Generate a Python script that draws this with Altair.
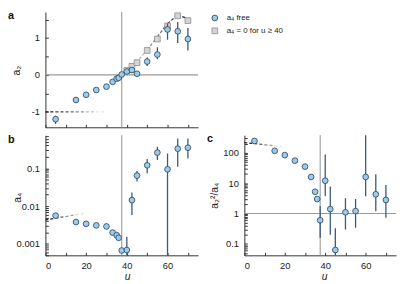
import altair as alt
import pandas as pd

# ---------------- data ----------------
u_free = [5, 15, 20, 25, 30, 33, 35, 36, 37.5, 40, 42.5, 45, 50, 55, 60, 65, 70]
a2_free = [-1.20, -0.68, -0.54, -0.41, -0.32, -0.19, -0.105, -0.08, 0.01, 0.09, 0.13, 0.03, 0.36, 0.55, 1.23, 1.18, 0.97]
a2_free_lo = [-1.33, -0.68, -0.54, -0.41, -0.32, -0.19, -0.105, -0.08, 0.01, 0.09, 0.13, 0.03, 0.24, 0.42, 0.95, 0.86, 0.66]
a2_free_hi = [-1.11, -0.68, -0.54, -0.41, -0.32, -0.19, -0.105, -0.08, 0.01, 0.09, 0.13, 0.03, 0.47, 0.75, 1.39, 1.43, 1.27]

u_fixed = [40, 42.5, 45, 50, 55, 60, 65, 70]
a2_fixed = [0.12, 0.23, 0.33, 0.66, 0.97, 1.32, 1.60, 1.47]

a4_free = [0.0056, 0.0038, 0.0034, 0.0031, 0.0029, 0.0020, 0.0017, 0.00145, 0.00067, 0.00069, 0.0144, 0.064, 0.12, 0.26, 0.094, 0.33, 0.35]
a4_lo = [0.0056, 0.0038, 0.0034, 0.0031, 0.0029, 0.0020, 0.0017, 0.00145, 0.00067, 0.0003, 0.0058, 0.045, 0.074, 0.165, 0.0001, 0.11, 0.18]
a4_hi = [0.0056, 0.0038, 0.0034, 0.0031, 0.0029, 0.0020, 0.0017, 0.00145, 0.00067, 0.00155, 0.023, 0.085, 0.176, 0.37, 0.245, 0.61, 0.61]

ratio = [245, 116, 84, 55, 35, 16, 5.2, 3.0, 0.6, 12, 1.4, 0.063, 1.1, 1.2, 16, 4.3, 2.8]
ratio_lo = [245, 116, 84, 55, 35, 16, 5.2, 3.0, 0.16, 3.7, 0.2, 0.01, 0.3, 0.34, 3.7, 1.19, 0.72]
ratio_hi = [245, 116, 84, 55, 35, 16, 5.2, 3.0, 1.73, 88, 7.7, 0.33, 3.2, 3.0, 1000, 19.5, 8.7]

# dashed guide curves
guide_a_flat_u = [0, 5, 10, 15, 20, 25, 30]
guide_a_flat_v = [-1, -1, -1, -1, -1, -1, -1]
guide_a_rise_u = [38, 43, 50, 55, 60, 65, 70]
guide_a_rise_v = [0.02, 0.22, 0.68, 1.03, 1.39, 1.62, 1.52]
guide_b_u = [0, 5, 10, 15, 20]
guide_b_v = [0.0043, 0.0048, 0.0053, 0.0059, 0.0066]
guide_c_u = [0, 5, 10, 15, 20]
guide_c_v = [215, 200, 185, 170, 156]

vline_u = [37.5]
hline_a2 = [0]
hline_ratio = [1]

series_names = ["a\u2084 free", "a\u2084 = 0 for u \u2265 40"]
panel_labels = ["a", "b", "c"]

# ---------------- styling ----------------
FONT = "Liberation Sans"
BLUE = "#9ccbea"
NAVY = "#24415c"
ERR = "#385a7a"
SQ_FILL = "#d4d4d4"
SQ_STROKE = "#8c8c8c"
REF = "#9a9a9a"
AX = "#333333"
W_L, W_R, H_A, H_B = 155, 154, 117, 122
inward = alt.ExprRef(expr="-3")

u_ticks = [0, 10, 20, 30, 40, 50, 60, 70]
U_DOMAIN = [0, 75]


def log_ticks_all(lo, hi):
    out = []
    for e in range(-5, 4):
        for m in range(1, 10):
            v = float(f"{m}e{e}")
            if lo <= v <= hi:
                out.append(v)
    return out


decade_expr = "abs(log(datum.value)/LN10 - round(log(datum.value)/LN10)) < 0.001 ? format(datum.value, '~g') : ''"


def x_axis(labels, title_x=0):
    if labels:
        return alt.Axis(values=u_ticks, labelExpr="datum.value % 20 == 0 ? toString(datum.value) : ''",
                        tickSize=inward, labelPadding=8, labelFontSize=9.5, labelOverlap=False,
                        title="u", titleFontStyle="italic", titleFontWeight="normal", titleFontSize=10.5,
                        titleX=title_x, titleY=22, titleBaseline="middle", titleAlign="center",
                        grid=False)
    return alt.Axis(values=u_ticks, labels=False, tickSize=inward, title=None, grid=False)


def y_axis(values, expr, title, tx, ty):
    return alt.Axis(values=values, labelExpr=expr, tickSize=inward, labelPadding=9, labelFontSize=9.5,
                    labelOverlap=False, title=title, titleFontWeight="normal", titleFontSize=10.5,
                    titleX=tx, titleY=ty, titleAngle=-90, titleBaseline="middle", titleAlign="center",
                    grid=False)


def segments(us, vs, dark_first):
    rows = []
    n = len(us) - 1
    for i in range(n):
        t = i / (n - 1) if n > 1 else 0.0
        rows.append(dict(u0=us[i], u1=us[i + 1], v0=vs[i], v1=vs[i + 1], shade=t if dark_first else 1 - t))
    return pd.DataFrame(rows)


shade_color = alt.Color("shade:Q", scale=alt.Scale(domain=[0, 1], range=["#222222", "#e4e4e4"]), legend=None)


def panel(xa, ya, df_points, df_err, guides, vls, hls, label, label_xy, extra=None, legend_enc=None):
    X = lambda f: alt.X(f"{f}:Q", scale=alt.Scale(domain=U_DOMAIN, nice=False), axis=xa)
    layers = []
    if hls is not None:
        layers.append(alt.Chart(pd.DataFrame({"v": hls})).mark_rule(color=REF, strokeWidth=1.1).encode(y=ya("v")))
    layers.append(alt.Chart(pd.DataFrame({"u": vls})).mark_rule(color=REF, strokeWidth=1.1).encode(x=X("u")))
    for g in guides:
        layers.append(alt.Chart(g).mark_rule(strokeDash=[3, 2], strokeWidth=1.3).encode(
            x=X("u0"), x2="u1", y=ya("v0"), y2="v1", color=shade_color))
    if extra is not None:
        layers.append(extra(X))
    layers.append(alt.Chart(df_err).mark_rule(color=ERR, strokeWidth=1.3, clip=True).encode(
        x=X("u"), y=ya("lo"), y2="hi"))
    if legend_enc is not None:
        layers.append(alt.Chart(df_points).mark_point(filled=True, size=34, strokeWidth=0.8, opacity=1).encode(
            x=X("u"), y=ya("v"), **legend_enc))
    else:
        layers.append(alt.Chart(df_points).mark_point(filled=True, shape="circle", size=34, strokeWidth=0.8,
                                                      opacity=1, fill=BLUE, stroke=NAVY).encode(
            x=X("u"), y=ya("v")))
    layers.append(alt.Chart(pd.DataFrame({"lab": [label]})).mark_text(
        fontWeight="bold", fontSize=11, align="left", baseline="top", font=FONT, color="#111").encode(
        x=alt.value(label_xy[0]), y=alt.value(label_xy[1]), text="lab:N"))
    return alt.layer(*layers)


# ---------------- panel a ----------------
ya_scale = alt.Scale(domain=[-1.42, 1.7], nice=False, zero=False)
ya_axis = y_axis([-1, -0.5, 0, 0.5, 1, 1.5], "datum.value % 1 == 0 ? toString(datum.value) : ''",
                 "a\u2082", -29, 59)
YA = lambda f: alt.Y(f"{f}:Q", scale=ya_scale, axis=ya_axis)

leg = alt.Legend(orient="none", legendX=168, legendY=2, title=None, labelFontSize=8, labelFont=FONT,
                 labelColor="#222", symbolSize=34, labelOffset=8, rowPadding=3, padding=0,
                 symbolStrokeWidth=0.8)
legend_enc = dict(
    shape=alt.Shape("series:N", scale=alt.Scale(domain=series_names, range=["circle", "square"]), legend=leg),
    fill=alt.Fill("series:N", scale=alt.Scale(domain=series_names, range=[BLUE, SQ_FILL]), legend=leg),
    stroke=alt.Stroke("series:N", scale=alt.Scale(domain=series_names, range=[NAVY, SQ_STROKE]), legend=leg),
)

df_a = pd.DataFrame({"u": u_free, "v": a2_free, "series": series_names[0]})
df_a_err = pd.DataFrame({"u": u_free, "lo": a2_free_lo, "hi": a2_free_hi})
df_fix = pd.DataFrame({"u": u_fixed, "v": a2_fixed, "series": series_names[1]})


def squares(X):
    return alt.Chart(df_fix).mark_point(filled=True, size=34, strokeWidth=0.8, opacity=1).encode(
        x=X("u"), y=YA("v"), **legend_enc)


chart_a = panel(x_axis(False), YA, df_a, df_a_err,
                [segments(guide_a_flat_u, guide_a_flat_v, True), segments(guide_a_rise_u, guide_a_rise_v, False)],
                vline_u, hline_a2, panel_labels[0], (-38, -2), extra=squares, legend_enc=legend_enc
                ).properties(width=W_L, height=H_A)

# ---------------- panel b ----------------
yb_scale = alt.Scale(type="log", domain=[0.0005, 0.75], nice=False)
yb_axis = y_axis(log_ticks_all(0.0005, 0.75), decade_expr, "a\u2084", -28, 63)
YB = lambda f: alt.Y(f"{f}:Q", scale=yb_scale, axis=yb_axis)
df_b = pd.DataFrame({"u": u_free, "v": a4_free})
df_b_err = pd.DataFrame({"u": u_free, "lo": a4_lo, "hi": a4_hi})
chart_b = panel(x_axis(True, 83), YB, df_b, df_b_err, [segments(guide_b_u, guide_b_v, True)],
                vline_u, None, panel_labels[1], (-38, -1)).properties(width=W_L, height=H_B)

# ---------------- panel c ----------------
yc_scale = alt.Scale(type="log", domain=[0.042, 380], nice=False)
yc_axis = y_axis(log_ticks_all(0.042, 380), decade_expr, "a\u2082\u00b2/a\u2084", -30, 61)
YC = lambda f: alt.Y(f"{f}:Q", scale=yc_scale, axis=yc_axis)
df_c = pd.DataFrame({"u": u_free, "v": ratio})
df_c_err = pd.DataFrame({"u": u_free, "lo": ratio_lo, "hi": ratio_hi})
chart_c = panel(x_axis(True, 81), YC, df_c, df_c_err, [segments(guide_c_u, guide_c_v, True)],
                vline_u, hline_ratio, panel_labels[2], (-38, -2)).properties(width=W_R, height=H_B)

# ---------------- empty cell ----------------
empty = alt.Chart(pd.DataFrame({"z": [0]})).mark_point(opacity=0, size=0).encode(
    x=alt.X("z:Q", axis=None), y=alt.Y("z:Q", axis=None)).properties(width=W_R, height=H_A)

chart = alt.concat(chart_a, empty, chart_b, chart_c, columns=2,
                   spacing={"row": 8, "column": 47}, bounds="flush", align="each").properties(
    padding=0
).configure(font=FONT).configure_view(stroke=None).configure_axis(
    domainColor=AX, tickColor=AX, domainWidth=1, tickWidth=1, labelColor="#222", titleColor="#222",
    labelFont=FONT, titleFont=FONT
)

chart.save("out.html", embed_options={"renderer": "svg", "actions": False})
